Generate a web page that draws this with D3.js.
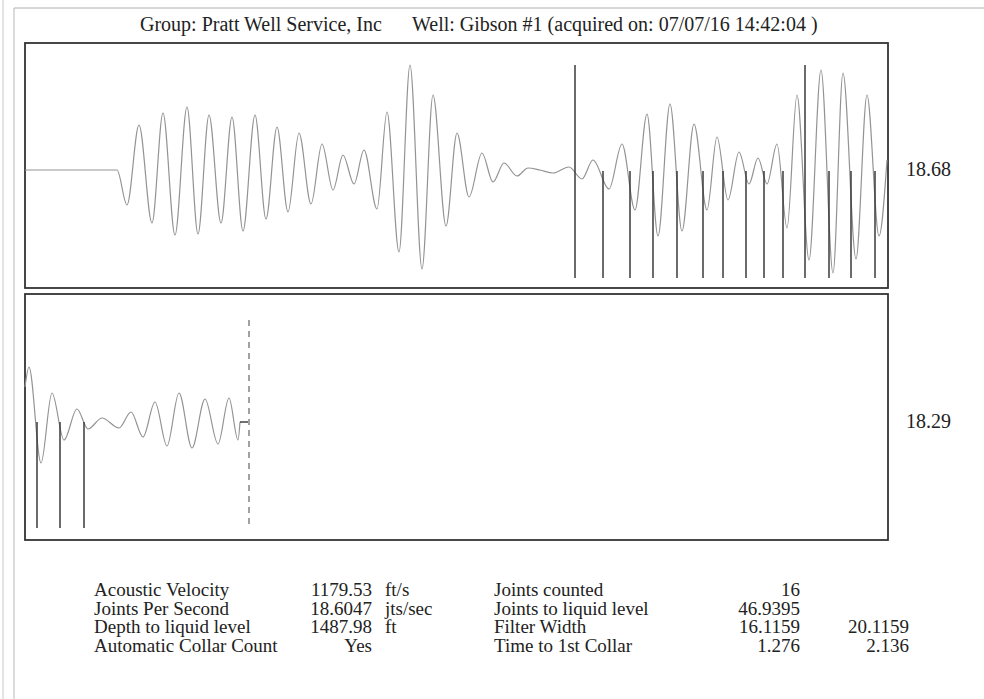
<!DOCTYPE html>
<html><head><meta charset="utf-8">
<script src="https://cdn.jsdelivr.net/npm/d3@7"></script>
<style>
body{margin:0;background:#fff}
text{font-family:"Liberation Serif","Times New Roman",serif;fill:#222}
</style>
</head><body>
<svg id="chart" width="984" height="699"></svg>
<script>
// ---------- data (sample index, amplitude) ----------
const headerGroup = "Group: Pratt Well Service, Inc";
const headerWell = "Well: Gibson #1 (acquired on: 07/07/16 14:42:04 )";

const topWave = [[0,0],[92,0],[102,-35],[114,45],[127,-53],[138,57],[150,-65],[162,63],[173,-64],[184,55],
 [196,-53],[207,53],[218,-61],[230,55],[241,-49],[252,43],[263,-42],[274,37],[286,-34],[297,26],[308,-20],
 [318,15],[329,-14],[339,20],[352,-39],[362,58],[374,-82],[385,105],[397,-99],[408,75],[421,-56],[432,37],
 [444,-27],[457,17],[468,-12],[479,7],[492,-6],[503,2],[515,0],[528,-3],[544,3],[557,-9],[568,10],[584,-19],
 [597,26],[610,-40],[622,56],[633,-66],[645,66],[657,-61],[669,46],[682,-40],[692,33],[703,-30],[714,18],
 [724,-14],[733,12],[742,-14],[752,26],[762,-58],[772,75],[784,-90],[796,100],[808,-103],[818,97],[831,-89],
 [842,75],[854,-66],[862,10]];
const topCollarsTall = [550,780];
const topCollarsShort = [578,605,628,652,678,698,721,739,758,804,826,850];
const topLabel = "18.68";

const bottomWave = [[0,35],[4,55],[16,-41],[27,29],[39,-18],[52,13],[63,-7],[77,4],[94,-6],[106,10],[118,-15],
 [130,20],[142,-24],[154,29],[167,-26],[180,23],[193,-22],[204,24],[213,-18],[215,0]];
const bottomCollars = [12,35,59];
const bottomLiquidLevel = 224;
const bottomTick = [215,223];
const bottomLabel = "18.29";

const leftLabels = ["Acoustic Velocity","Joints Per Second","Depth to liquid level","Automatic Collar Count"];
const leftValues = ["1179.53","18.6047","1487.98","Yes"];
const leftUnits = ["ft/s","jts/sec","ft",""];
const rightLabels = ["Joints counted","Joints to liquid level","Filter Width","Time to 1st Collar"];
const rightValues = ["16","46.9395","16.1159","1.276"];
const rightValues2 = ["","","20.1159","2.136"];

// ---------- drawing ----------
const svg = d3.select("#chart");

// outer page frame (faint)
svg.append("line").attr("x1",3).attr("x2",3).attr("y1",0).attr("y2",699).attr("stroke","#c8c8c8").attr("stroke-width",1);
svg.append("line").attr("x1",14).attr("x2",14).attr("y1",8).attr("y2",699).attr("stroke","#b8b8b8").attr("stroke-width",1);
svg.append("line").attr("x1",14).attr("x2",984).attr("y1",8).attr("y2",8).attr("stroke","#b0b0b0").attr("stroke-width",1);

// header
svg.append("text").attr("x",140).attr("y",30.5).attr("font-size",20).text(headerGroup);
svg.append("text").attr("x",412).attr("y",30.5).attr("font-size",20).text(headerWell);

const x = d3.scaleLinear().domain([0,863]).range([25,888]);
const panels = [
  {y: d3.scaleLinear().domain([-118,127]).range([288,43]), top:43, bottom:288, label:topLabel},
  {y: d3.scaleLinear().domain([-118,128]).range([540,294]), top:294, bottom:540, label:bottomLabel}
];

panels.forEach(p=>{
  svg.append("rect").attr("x",25).attr("y",p.top).attr("width",863).attr("height",p.bottom-p.top)
    .attr("fill","none").attr("stroke","#333").attr("stroke-width",1.8);
  svg.append("text").attr("x",906).attr("y",p.y(0)+6).attr("font-size",20).text(p.label);
});

const line = (ys)=>d3.line().x(d=>x(d[0])).y(d=>ys(d[1])).curve(d3.curveMonotoneX);

// top panel
const yT = panels[0].y;
svg.append("path").datum(topWave).attr("d",line(yT)).attr("fill","none").attr("stroke","#939393").attr("stroke-width",1.2);
svg.selectAll(".ct").data(topCollarsTall).join("line").attr("class","ct")
  .attr("x1",d=>x(d)).attr("x2",d=>x(d)).attr("y1",yT(105)).attr("y2",yT(-108))
  .attr("stroke","#3a3a3a").attr("stroke-width",1.5);
svg.selectAll(".cs").data(topCollarsShort).join("line").attr("class","cs")
  .attr("x1",d=>x(d)).attr("x2",d=>x(d)).attr("y1",yT(-1)).attr("y2",yT(-108))
  .attr("stroke","#3a3a3a").attr("stroke-width",1.5);

// bottom panel
const yB = panels[1].y;
svg.append("path").datum(bottomWave).attr("d",line(yB)).attr("fill","none").attr("stroke","#939393").attr("stroke-width",1.2);
svg.selectAll(".cb").data(bottomCollars).join("line").attr("class","cb")
  .attr("x1",d=>x(d)).attr("x2",d=>x(d)).attr("y1",yB(0)).attr("y2",yB(-106))
  .attr("stroke","#3a3a3a").attr("stroke-width",1.5);
svg.append("line").attr("x1",x(bottomLiquidLevel)).attr("x2",x(bottomLiquidLevel))
  .attr("y1",yB(102)).attr("y2",yB(-106)).attr("stroke","#444").attr("stroke-width",1).attr("stroke-dasharray","6,5");
svg.append("line").attr("x1",x(bottomTick[0])).attr("x2",x(bottomTick[1]))
  .attr("y1",yB(0)).attr("y2",yB(0)).attr("stroke","#222").attr("stroke-width",1.3);

// table
const rowY = d3.range(4).map(i=>596+i*18.6);
const fs = 19;
const tbl = svg.append("g").attr("font-size",fs);
tbl.selectAll(".l1").data(leftLabels).join("text").attr("x",94).attr("y",(d,i)=>rowY[i]).text(d=>d);
tbl.selectAll(".v1").data(leftValues).join("text").attr("x",372).attr("y",(d,i)=>rowY[i]).attr("text-anchor","end").text(d=>d);
tbl.selectAll(".u1").data(leftUnits).join("text").attr("x",385).attr("y",(d,i)=>rowY[i]).text(d=>d);
tbl.selectAll(".l2").data(rightLabels).join("text").attr("x",494).attr("y",(d,i)=>rowY[i]).text(d=>d);
tbl.selectAll(".v2").data(rightValues).join("text").attr("x",800).attr("y",(d,i)=>rowY[i]).attr("text-anchor","end").text(d=>d);
tbl.selectAll(".v3").data(rightValues2).join("text").attr("x",909).attr("y",(d,i)=>rowY[i]).attr("text-anchor","end").text(d=>d);
</script>
</body></html>
